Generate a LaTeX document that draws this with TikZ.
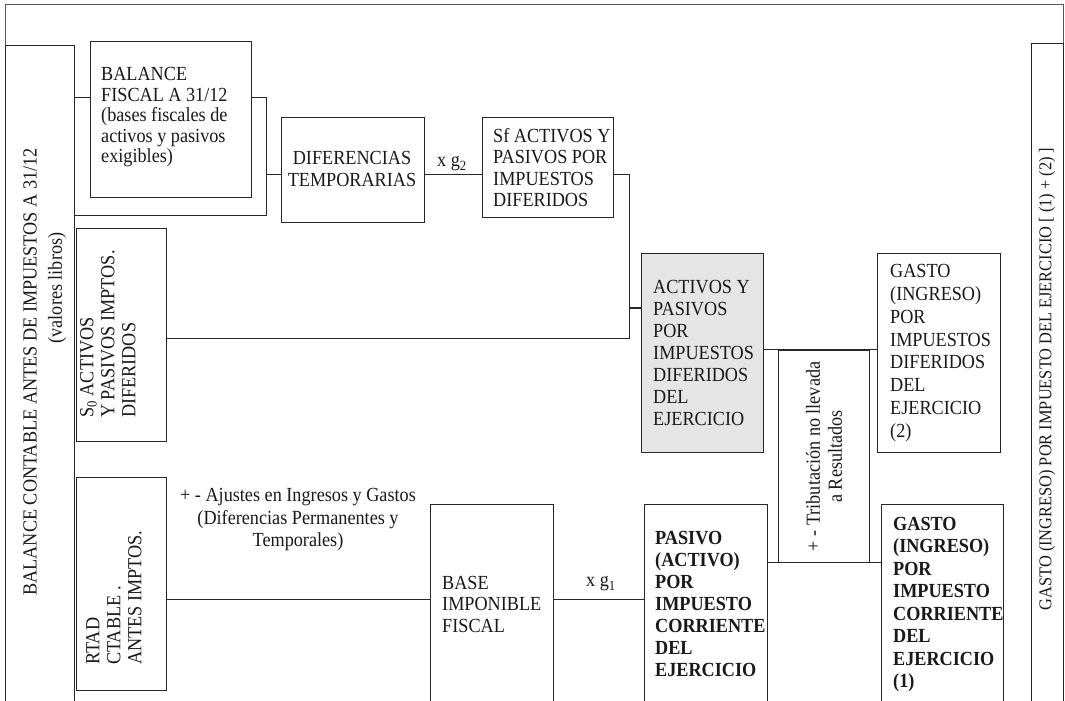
\documentclass[tikz,border=0pt]{standalone}
\usepackage{fontspec}
\setmainfont{Liberation Serif}[FakeStretch=0.91]
\usetikzlibrary{calc}
\begin{document}
\begin{tikzpicture}[x=1pt,y=-1pt,
  bx/.style={draw=black!85, line width=0.9pt, anchor=north west, inner sep=0pt},
  ln/.style={draw=black!85, line width=0.9pt},
  frm/.style={draw=black!65, line width=0.9pt},
  txt/.style={font=\fontsize{20}{22}\selectfont, align=left, inner sep=0pt, text=black!90},
  ctxt/.style={txt, align=center},
  rtxt/.style={txt, rotate=90},
]
\useasboundingbox (0,0) rectangle (1065,701);
\clip (0,0) rectangle (1065,701);

% outer frame
\draw[frm] (5,720) -- (5,4) -- (1063,4) -- (1063,720);

% boxes
\node[bx, minimum width=69, minimum height=700] (bal) at (5,45) {};
\node[bx, minimum width=32, minimum height=700] (tot) at (1031,43) {};
\node[bx, fill=white, minimum width=161, minimum height=156] (fis) at (90,41) {};
\node[bx, minimum width=143, minimum height=105] (dif) at (281,117) {};
\node[bx, minimum width=131, minimum height=100] (sf) at (482,117) {};
\node[bx, minimum width=90, minimum height=213] (s0) at (76,228) {};
\node[bx, minimum width=90, minimum height=213] (rtad) at (76,477) {};
\node[bx, fill=black!10, minimum width=122, minimum height=199] (act) at (641,253) {};
\node[bx, minimum width=123, minimum height=199] (g2) at (877,253) {};
\node[bx, minimum width=91, minimum height=212] (trib) at (778,350) {};
\node[bx, minimum width=123, minimum height=200] (base) at (430,504) {};
\node[bx, minimum width=123, minimum height=200] (pas) at (644,504) {};
\node[bx, minimum width=122, minimum height=200] (g1) at (881,504) {};

% levels and joints
\coordinate (L97) at (0,97);
\coordinate (L174) at (0,174);
\coordinate (L308) at (0,308);
\coordinate (L349) at (0,349);
\coordinate (L562) at (0,562);
\coordinate (L599) at (0,599);
\coordinate (J1) at (266,97);
\coordinate (J2) at (266,215);
\coordinate (J3) at (629,174);
\coordinate (J4) at (629,338);

% connectors
\draw[ln] (bal.east |- L97) -- (fis.west |- L97);
\draw[ln] (fis.east |- L97) -- (J1) -- (J2) -- (bal.east |- J2);
\draw[ln] (J1 |- L174) -- (dif.west |- L174);
\draw[ln] (dif.east |- L174) -- (sf.west |- L174);
\draw[ln] (sf.east |- L174) -- (J3) -- (J4) -- (s0.east |- J4);
\draw[ln, line width=2.6pt] (J3 |- L308) -- (act.west |- L308);
\draw[ln] (act.east |- L349) -- (g2.west |- L349);
\draw[ln] (pas.east |- L562) -- (g1.west |- L562);
\draw[ln] (rtad.east |- L599) -- (base.west |- L599);
\draw[ln] (base.east |- L599) -- (pas.west |- L599);

% texts
\node[txt, anchor=west, font=\fontsize{20}{20.5}\selectfont] (tfis) at ($(fis.west)+(11,-2)$)
  {BALANCE\\FISCAL A 31/12\\(bases fiscales de\\activos y pasivos\\exigibles)};
\node[ctxt] (tdif) at (352,169) {DIFERENCIAS\\TEMPORARIAS};
\node[txt, anchor=west, font=\fontsize{20}{21.5}\selectfont] (tsf) at ($(sf.west)+(11,0)$)
  {Sf ACTIVOS Y\\PASIVOS POR\\IMPUESTOS\\DIFERIDOS};
\node[txt, anchor=west] (tact) at ($(act.west)+(12,0)$)
  {ACTIVOS Y\\PASIVOS\\POR\\IMPUESTOS\\DIFERIDOS\\DEL\\EJERCICIO};
\node[txt, anchor=west, font=\fontsize{20}{22.8}\selectfont] (tg2) at ($(g2.west)+(13,0)$)
  {GASTO\\(INGRESO)\\POR\\IMPUESTOS\\DIFERIDOS\\DEL\\EJERCICIO\\(2)};
\node[txt, anchor=west, font=\fontsize{20}{21.5}\selectfont] (tbase) at ($(base.west)+(12,0)$)
  {BASE\\IMPONIBLE\\FISCAL};
\node[txt, anchor=west, font=\bfseries\fontsize{20}{22}\selectfont] (tpas) at ($(pas.west)+(11,0)$)
  {PASIVO\\(ACTIVO)\\POR\\IMPUESTO\\CORRIENTE\\DEL\\EJERCICIO};
\node[txt, anchor=west, font=\bfseries\fontsize{20}{22.5}\selectfont] (tg1) at ($(g1.west)+(12,0)$)
  {GASTO\\(INGRESO)\\POR\\IMPUESTO\\CORRIENTE\\DEL\\EJERCICIO\\(1)};
\node[ctxt, font=\fontsize{20}{22.5}\selectfont] (taj) at (298,520)
  {+ - Ajustes en Ingresos y Gastos\\(Diferencias Permanentes y\\Temporales)};
\node[txt] (xg2) at (452,164) {x g\textsubscript{2}};
\node[txt] (xg1) at (601,584) {x g\textsubscript{1}};

% rotated texts
\node[rtxt] (tbal1) at (30,372) {BALANCE CONTABLE ANTES DE IMPUESTOS A 31/12};
\node[rtxt] (tbal2) at (57,288) {(valores libros)};
\node[rtxt, anchor=north west, font=\fontsize{20}{21}\selectfont] (ts0) at (80,418)
  {S\textsubscript{0} ACTIVOS\\Y PASIVOS IMPTOS.\\DIFERIDOS};
\node[rtxt, anchor=north west, font=\fontsize{20}{21}\selectfont] (trtad) at (86,665)
  {RTAD\\CTABLE .\\ANTES IMPTOS.};
\node[rtxt, align=center, font=\fontsize{20}{22}\selectfont] (ttrib) at (trib.center)
  {+ - Tributación no llevada\\a Resultados};
\node[rtxt, font=\fontsize{18}{20}\selectfont] (ttot) at (1047,379)
  {GASTO (INGRESO) POR IMPUESTO DEL EJERCICIO [ (1) + (2) ]};
\end{tikzpicture}
\end{document}
